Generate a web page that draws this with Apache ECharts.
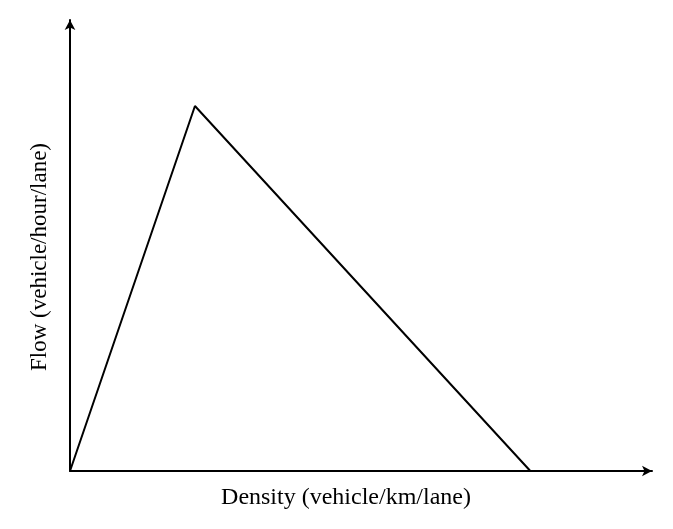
<!DOCTYPE html>
<html><head><meta charset="utf-8">
<script src="https://cdn.jsdelivr.net/npm/echarts@6/dist/echarts.min.js"></script>
<style>html,body{margin:0;padding:0;background:#fff}#c{width:673px;height:529px}</style>
</head><body><div id="c"></div>
<script>
const density = [0, 38, 140];
const flow = [0, 2000, 0];
const xLabel = 'Density (vehicle/km/lane)';
const yLabel = 'Flow (vehicle/hour/lane)';
const xMax = 177;
const yMax = 2471;

const chart = echarts.init(document.getElementById('c'));
const font = '"Liberation Serif", "Times New Roman", serif';
chart.setOption({
  animation: false,
  backgroundColor: '#fff',
  grid: { left: 70, top: 20, right: 21, bottom: 58 },
  xAxis: {
    type: 'value', min: 0, max: xMax,
    axisLine: { show: true, symbol: ['none', 'arrow'], symbolSize: [8, 10], lineStyle: { color: '#000', width: 2 } },
    axisTick: { show: false }, axisLabel: { show: false }, splitLine: { show: false }
  },
  yAxis: {
    type: 'value', min: 0, max: yMax,
    axisLine: { show: true, symbol: ['none', 'arrow'], symbolSize: [8, 10], lineStyle: { color: '#000', width: 2 } },
    axisTick: { show: false }, axisLabel: { show: false }, splitLine: { show: false }
  },
  graphic: [
    { type: 'text', x: 346, y: 498, style: { text: xLabel, font: '24px ' + font, fill: '#000', align: 'center', verticalAlign: 'middle' } },
    { type: 'text', rotation: Math.PI / 2, x: 40, y: 257, style: { text: yLabel, font: '23px ' + font, fill: '#000', align: 'center', verticalAlign: 'middle' } }
  ],
  series: [{
    type: 'line', data: density.map((d, i) => [d, flow[i]]),
    symbol: 'none', lineStyle: { color: '#000', width: 2 }
  }]
});
</script></body></html>
